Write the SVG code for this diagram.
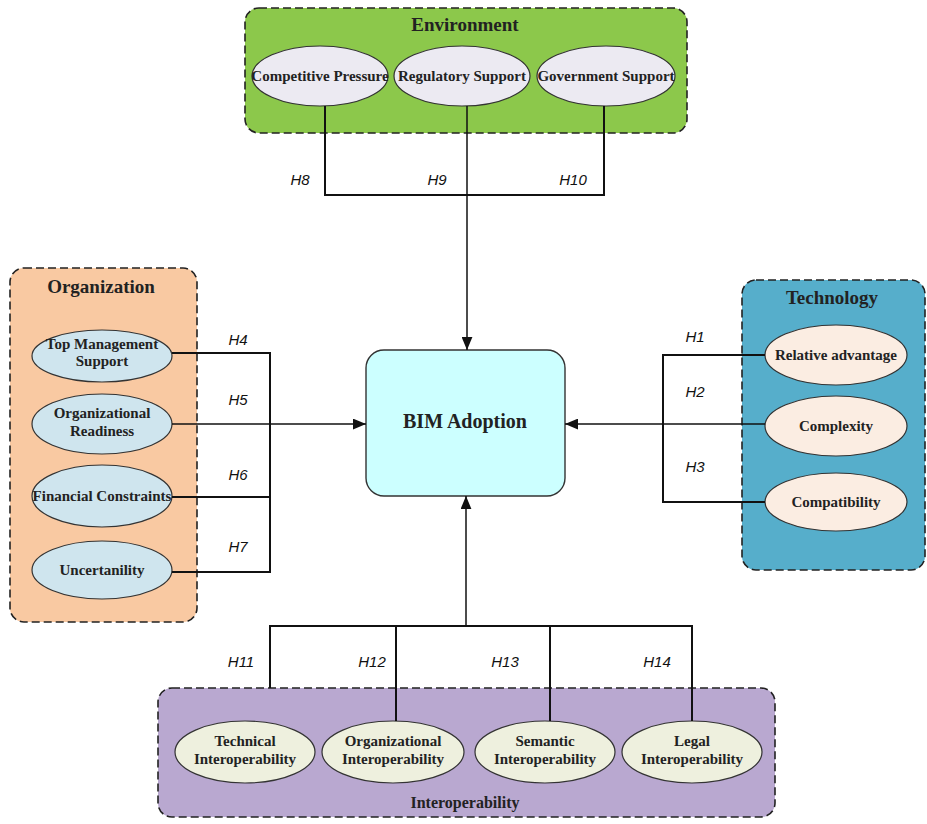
<svg xmlns="http://www.w3.org/2000/svg" width="927" height="824" viewBox="0 0 927 824">
<defs>
<marker id="arr" viewBox="0 0 12 10" refX="12" refY="5" markerWidth="13" markerHeight="11" markerUnits="userSpaceOnUse" orient="auto">
<path d="M0,0 L12,5 L0,10 Z" fill="#111"/>
</marker>
<style>
.grp{stroke:#222;stroke-width:1.6;stroke-dasharray:8 4}
.ell{stroke:#333;stroke-width:1.2}
.nt{font-family:"Liberation Serif","Times New Roman",serif;font-weight:bold;font-size:15px;fill:#222;text-anchor:middle}
.tt{font-family:"Liberation Serif","Times New Roman",serif;font-weight:bold;font-size:19px;fill:#222;text-anchor:middle}
.hl{font-family:"Liberation Sans",Arial,sans-serif;font-style:italic;font-size:15px;fill:#111;text-anchor:middle}
.ln{fill:none;stroke:#111;stroke-width:2}
.ln1{fill:none;stroke:#111;stroke-width:1.5}
</style>
</defs>
<rect width="927" height="824" fill="#fff"/>

<g id="environment">
<rect x="245" y="8" width="442" height="125" rx="14" fill="#8CC84B" class="grp"/>
<text x="465" y="31" class="tt">Environment</text>
</g>
<g id="competitive-pressure">
<ellipse cx="320" cy="76" rx="68" ry="30" fill="#ECEAF2" class="ell"/>
<text x="320" y="81" class="nt">Competitive Pressure</text>
</g>
<g id="regulatory-support">
<ellipse cx="462" cy="76" rx="68" ry="30" fill="#ECEAF2" class="ell"/>
<text x="462" y="81" class="nt">Regulatory Support</text>
</g>
<g id="government-support">
<ellipse cx="606" cy="76" rx="69" ry="30" fill="#ECEAF2" class="ell"/>
<text x="606" y="81" class="nt">Government Support</text>
</g>

<g id="organization">
<rect x="10" y="268" width="187" height="354" rx="14" fill="#F9C9A2" class="grp"/>
<text x="101" y="293" class="tt">Organization</text>
</g>
<g id="top-management-support">
<ellipse cx="102" cy="356" rx="70" ry="26" fill="#CFE5EE" class="ell"/>
<text x="102" y="349" class="nt">Top Management</text>
<text x="102" y="366" class="nt">Support</text>
</g>
<g id="organizational-readiness">
<ellipse cx="102" cy="424" rx="70" ry="30" fill="#CFE5EE" class="ell"/>
<text x="102" y="418" class="nt">Organizational</text>
<text x="102" y="436" class="nt">Readiness</text>
</g>
<g id="financial-constraints">
<ellipse cx="102" cy="496" rx="70" ry="31" fill="#CFE5EE" class="ell"/>
<text x="102" y="501" class="nt">Financial Constraints</text>
</g>
<g id="uncertanility">
<ellipse cx="102" cy="570" rx="70" ry="29" fill="#CFE5EE" class="ell"/>
<text x="102" y="575" class="nt">Uncertanility</text>
</g>

<g id="technology">
<rect x="742" y="280" width="183" height="290" rx="14" fill="#56AECB" class="grp"/>
<text x="832" y="304" class="tt">Technology</text>
</g>
<g id="relative-advantage">
<ellipse cx="836" cy="355" rx="71" ry="30" fill="#FBEDE2" class="ell"/>
<text x="836" y="360" class="nt">Relative advantage</text>
</g>
<g id="complexity">
<ellipse cx="836" cy="426" rx="71" ry="30" fill="#FBEDE2" class="ell"/>
<text x="836" y="431" class="nt">Complexity</text>
</g>
<g id="compatibility">
<ellipse cx="836" cy="502" rx="71" ry="29" fill="#FBEDE2" class="ell"/>
<text x="836" y="507" class="nt">Compatibility</text>
</g>

<g id="interoperability">
<rect x="158" y="688" width="617" height="129" rx="14" fill="#B9A8D0" class="grp"/>
<text x="465" y="808" class="tt" style="font-size:16px">Interoperability</text>
</g>
<g id="technical-interoperability">
<ellipse cx="245" cy="752" rx="70" ry="31" fill="#EEF0DE" class="ell"/>
<text x="245" y="746" class="nt">Technical</text>
<text x="245" y="764" class="nt">Interoperability</text>
</g>
<g id="organizational-interoperability">
<ellipse cx="393" cy="752" rx="71" ry="31" fill="#EEF0DE" class="ell"/>
<text x="393" y="746" class="nt">Organizational</text>
<text x="393" y="764" class="nt">Interoperability</text>
</g>
<g id="semantic-interoperability">
<ellipse cx="545" cy="752" rx="70" ry="31" fill="#EEF0DE" class="ell"/>
<text x="545" y="746" class="nt">Semantic</text>
<text x="545" y="764" class="nt">Interoperability</text>
</g>
<g id="legal-interoperability">
<ellipse cx="692" cy="752" rx="70" ry="31" fill="#EEF0DE" class="ell"/>
<text x="692" y="746" class="nt">Legal</text>
<text x="692" y="764" class="nt">Interoperability</text>
</g>

<g id="bim-adoption">
<rect x="366" y="350" width="199" height="146" rx="18" fill="#CCFFFF" stroke="#333" stroke-width="1.4"/>
<text x="465" y="428" class="tt" style="font-size:20px">BIM Adoption</text>
</g>

<g id="connectors">
<path class="ln" d="M325,106 V195 H604 V106"/>
<path class="ln1" d="M467,106 V350" marker-end="url(#arr)"/>
<path class="ln" d="M172,353 H270 V572 H172 M172,497 H270"/>
<path class="ln1" d="M172,424 H366" marker-end="url(#arr)"/>
<path class="ln" d="M765,355 H663 V502 H765"/>
<path class="ln1" d="M765,424 H565" marker-end="url(#arr)"/>
<path class="ln" d="M270,688 V626 H692 V721 M396,626 V721 M550,626 V721"/>
<path class="ln1" d="M466,626 V496" marker-end="url(#arr)"/>
</g>

<g id="labels">
<text x="300" y="185" class="hl">H8</text>
<text x="437" y="185" class="hl">H9</text>
<text x="573" y="185" class="hl">H10</text>
<text x="238" y="345" class="hl">H4</text>
<text x="238" y="405" class="hl">H5</text>
<text x="238" y="480" class="hl">H6</text>
<text x="238" y="552" class="hl">H7</text>
<text x="695" y="342" class="hl">H1</text>
<text x="695" y="397" class="hl">H2</text>
<text x="695" y="472" class="hl">H3</text>
<text x="241" y="667" class="hl">H11</text>
<text x="372" y="667" class="hl">H12</text>
<text x="505" y="667" class="hl">H13</text>
<text x="657" y="667" class="hl">H14</text>
</g>
</svg>
